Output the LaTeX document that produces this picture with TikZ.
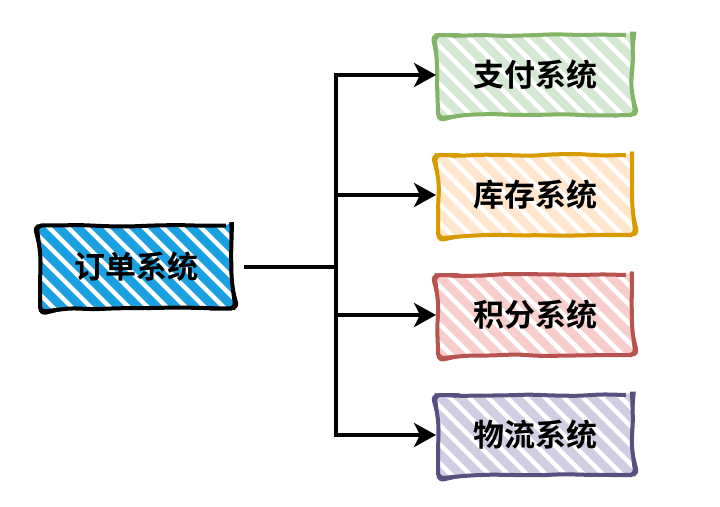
\documentclass[tikz,border=0pt]{standalone}
\usepackage{fontspec}
\newfontfamily\cjk{Noto Sans CJK SC}[BoldFont={Noto Sans CJK SC Bold}]
\usetikzlibrary{arrows.meta, decorations.pathmorphing}

\definecolor{ordblue}{HTML}{1BA1E2}
\definecolor{payline}{HTML}{82B366}
\definecolor{payfill}{HTML}{D5E8D4}
\definecolor{stockline}{HTML}{D79B00}
\definecolor{stockfill}{HTML}{FFE6CC}
\definecolor{pointline}{HTML}{B85450}
\definecolor{pointfill}{HTML}{F8CECC}
\definecolor{shipline}{HTML}{56517E}
\definecolor{shipfill}{HTML}{D0CEE2}

\tikzset{
  hatchfill/.style={path picture={
      \foreach \i in {-9,...,9}
        \draw[#1, line width=8.5pt, line cap=round]
          ([shift={(\i*19pt-60pt,60pt)}]path picture bounding box.center) -- ++(120pt,-120pt);
  }},
  sysbox/.style={draw=#1, line width=4pt, minimum width=194pt, minimum height=80pt,
    rounded corners=6pt, inner sep=0pt, decorate,
    decoration={random steps, segment length=24pt, amplitude=1pt},
    postaction={draw=#1, line width=2.2pt, decorate,
      decoration={random steps, segment length=32pt, amplitude=1.8pt}}},
  link/.style={line width=3.6pt},
}

\begin{document}
\begin{tikzpicture}[x=1pt,y=-1pt, every node/.style={font=\cjk\bfseries\fontsize{31}{31}\selectfont}]
    \pgfmathsetseed{7}
    \useasboundingbox (0,0) rectangle (720,506);

    \node[sysbox=black, hatchfill=ordblue, minimum width=192pt, minimum height=83pt]
      (order) at (136,267) {订单系统};

    \foreach \n/\lab/\y/\c in {pay/支付系统/75/pay, stock/库存系统/195/stock,
                               points/积分系统/315/point, ship/物流系统/435/ship}
      \node[sysbox=\c line, hatchfill=\c fill] (\n) at (535,\y) {\lab};

    \coordinate (hub) at (336,267);
    \draw[link] ([xshift=10pt]order.east) -- (hub);

    \foreach \n in {pay,stock,points,ship}
      \draw[link, -{Stealth[length=22pt, width=24pt, inset=6pt]}] (hub) |- (\n);

\end{tikzpicture}
\end{document}
